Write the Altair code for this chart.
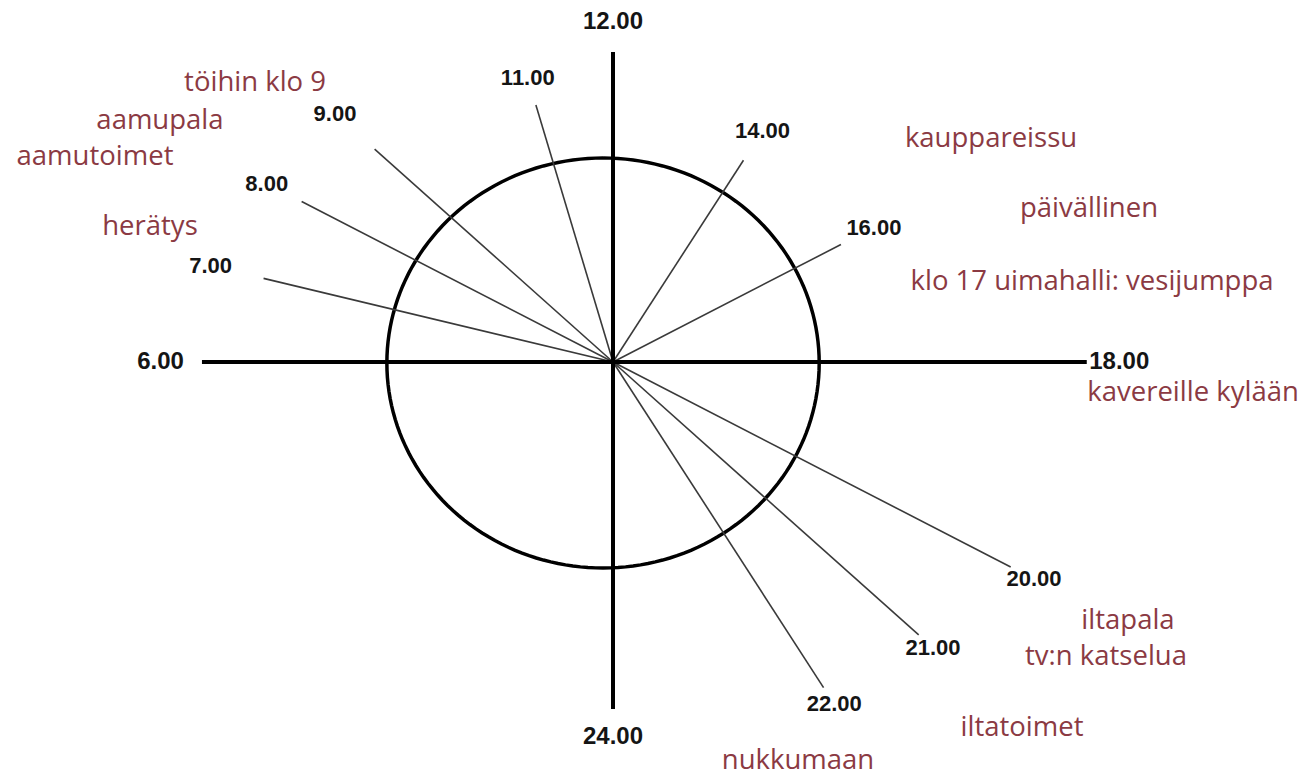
import altair as alt
import pandas as pd

# ---------------- data ----------------
spoke_hours = [7, 8, 9, 11, 14, 16, 20, 21, 22]
spoke_labels = ["7.00", "8.00", "9.00", "11.00", "14.00", "16.00", "20.00", "21.00", "22.00"]
axis_hours = [6, 12, 18, 24]
axis_labels = ["6.00", "12.00", "18.00", "24.00"]
activities = ["töihin klo 9", "aamupala", "aamutoimet", "herätys", "kauppareissu",
              "päivällinen", "klo 17 uimahalli: vesijumppa", "kavereille kylään",
              "iltapala", "tv:n katselua", "iltatoimet", "nukkumaan"]

# ---------------- layout (not data) ----------------
W, H = 1294, 769
XS = 1.12                      # horizontal stretch of the drawing
CX, CY = 613, 362              # page position of the clock centre
spoke_len = [323, 321, 301, 266, 233, 235, 410, 386, 376]
spoke_label_r = [372, 357, 351, 294, 267, 269, 434, 404, 395]
axis_len = [367, 310, 423, 347]
axis_label_r = [404, 340, 452, 375]
act_x = [-319.6, -404.5, -462.5, -413.4, 337.5, 425.0, 427.7, 517.9, 459.8, 440.2, 365.2, 165.2]
act_y = [279, 241, 205, 135, 223, 153, 80, -31, -259, -295, -366, -399]
face = dict(cx=-8.9, cy=-1.0, rx=193.0, ry=205.0)

xscale = alt.Scale(domain=[(8 - CX) / XS, (8 + W - CX) / XS], nice=False, zero=False)
yscale = alt.Scale(domain=[CY - (8 + H), CY - 8], nice=False, zero=False)

def X(f):
    return alt.X(f, type="quantitative", scale=xscale, axis=None)

def Y(f):
    return alt.Y(f, type="quantitative", scale=yscale, axis=None)

ang = "(datum.hour - 12) * PI / 12"

spokes = pd.DataFrame({"hour": spoke_hours, "label": spoke_labels,
                       "len": spoke_len, "lr": spoke_label_r})
axes = pd.DataFrame({"hour": axis_hours, "label": axis_labels,
                     "len": axis_len, "lr": axis_label_r})
acts = pd.DataFrame({"text": activities, "x": act_x, "y": act_y})

face_layer = alt.Chart(alt.sequence(0, 362, 2, as_="t")).transform_calculate(
    x=f"{face['cx']} + {face['rx']} * sin(datum.t * PI / 180)",
    y=f"{face['cy']} + {face['ry']} * cos(datum.t * PI / 180)",
).mark_line(color="black", strokeWidth=3.5).encode(x=X("x"), y=Y("y"), order="t:Q")

def rays(df, width, color):
    return alt.Chart(df).transform_calculate(
        x0="0", y0="0",
        x2=f"datum.len * sin({ang})",
        y2=f"datum.len * cos({ang})",
    ).mark_rule(strokeWidth=width, color=color).encode(
        x=X("x0"), y=Y("y0"), x2="x2:Q", y2="y2:Q")

def ray_labels(df, size):
    return alt.Chart(df).transform_calculate(
        x=f"datum.lr * sin({ang})",
        y=f"datum.lr * cos({ang})",
    ).mark_text(font="Liberation Sans", fontWeight="bold", fontSize=size,
                color="#151515", align="center", baseline="middle").encode(
        x=X("x"), y=Y("y"), text="label:N")

act_layer = alt.Chart(acts).mark_text(
    font="Open Sans", fontSize=27.5, color="#8b3a43", align="center", baseline="middle"
).encode(x=X("x"), y=Y("y"), text="text:N")

chart = alt.layer(
    face_layer,
    rays(spokes, 1.6, "#3a3a3a"),
    rays(axes, 4, "black"),
    ray_labels(spokes, 22),
    ray_labels(axes, 24),
    act_layer,
).properties(
    width=W, height=H, padding=0, autosize=alt.AutoSizeParams(type="none"),
    background="white"
).configure_view(stroke=None)

chart.save("out.html", embed_options={"renderer": "svg", "actions": False})
